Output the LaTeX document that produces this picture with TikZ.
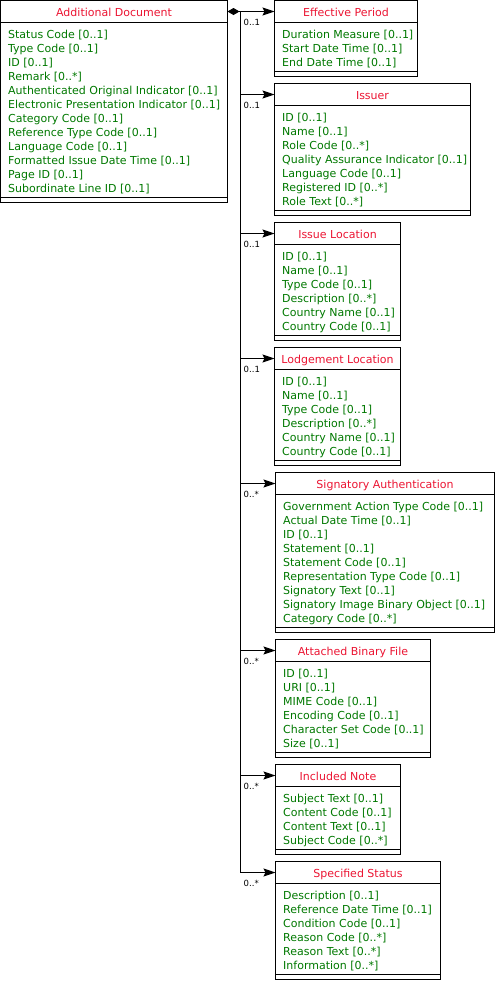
\documentclass[tikz,border=0pt]{standalone}
\usepackage{fontspec}
\setmainfont{DejaVu Sans}
\usetikzlibrary{arrows.meta}
\definecolor{ttlred}{RGB}{235,20,50}
\definecolor{attgreen}{RGB}{0,120,0}
\tikzset{
  box/.style={draw, line width=1pt, inner sep=0pt, outer sep=0pt, anchor=north west},
  titletext/.style={font=\fontsize{11}{12}\selectfont, text=ttlred, text height=9pt, text depth=0pt},
  attrtext/.style={font=\fontsize{11}{12}\selectfont, text=attgreen, inner sep=0pt, anchor=west, text height=9pt, text depth=0pt},
  mult/.style={font=\fontsize{8.5}{9}\selectfont, inner sep=0pt, anchor=west},
  link/.style={line width=1pt, -{Stealth[length=12pt,width=8pt,inset=2pt]}},
  trunk/.style={line width=1pt},
}
\newcommand\umlclass[7]{%
  \pgfmathsetmacro\bodyh{14*#6+7}%
  \node[box, titletext, minimum width=#4pt-#2pt, minimum height=22pt] (#1) at (#2,#3) {#5};
  \node[box, minimum width=#4pt-#2pt, minimum height=\bodyh pt] (#1-body) at (#1.south west) {};
  \node[box, minimum width=#4pt-#2pt, minimum height=5pt] (#1-foot) at (#1-body.south west) {};
  \foreach \a [count=\i] in {#7}{\node[attrtext] (#1-\i) at ({#2+7.5},{#3+33+14*(\i-1)}) {\a};}
}
\begin{document}
\begin{tikzpicture}[x=1pt,y=-1pt]
\useasboundingbox (0,0) rectangle (496,994);
\umlclass{AD}{0.5}{0.5}{227.5}{Additional Document}{12}{Status Code [0..1],Type Code [0..1],ID [0..1],Remark [0..*],Authenticated Original Indicator [0..1],Electronic Presentation Indicator [0..1],Category Code [0..1],Reference Type Code [0..1],Language Code [0..1],Formatted Issue Date Time [0..1],Page ID [0..1],Subordinate Line ID [0..1]}
\umlclass{EP}{274.5}{0.5}{417.5}{Effective Period}{3}{Duration Measure [0..1],Start Date Time [0..1],End Date Time [0..1]}
\umlclass{IS}{274.5}{83.5}{470.5}{Issuer}{7}{ID [0..1],Name [0..1],Role Code [0..*],Quality Assurance Indicator [0..1],Language Code [0..1],Registered ID [0..*],Role Text [0..*]}
\umlclass{IL}{274.5}{222.5}{400.5}{Issue Location}{6}{ID [0..1],Name [0..1],Type Code [0..1],Description [0..*],Country Name [0..1],Country Code [0..1]}
\umlclass{LL}{274.5}{347.5}{400.5}{Lodgement Location}{6}{ID [0..1],Name [0..1],Type Code [0..1],Description [0..*],Country Name [0..1],Country Code [0..1]}
\umlclass{SA}{275.5}{472.5}{494.5}{Signatory Authentication}{9}{Government Action Type Code [0..1],Actual Date Time [0..1],ID [0..1],Statement [0..1],Statement Code [0..1],Representation Type Code [0..1],Signatory Text [0..1],Signatory Image Binary Object [0..1],Category Code [0..*]}
\umlclass{AB}{275.5}{639.5}{430.5}{Attached Binary File}{6}{ID [0..1],URI [0..1],MIME Code [0..1],Encoding Code [0..1],Character Set Code [0..1],Size [0..1]}
\umlclass{IN}{275.5}{764.5}{400.5}{Included Note}{4}{Subject Text [0..1],Content Code [0..1],Content Text [0..1],Subject Code [0..*]}
\umlclass{SS}{275.5}{861.5}{440.5}{Specified Status}{6}{Description [0..1],Reference Date Time [0..1],Condition Code [0..1],Reason Code [0..*],Reason Text [0..*],Information [0..*]}
\coordinate (bus) at (240.5,0);
\draw[trunk] (bus |- AD.east) -- (bus |- SS.west);
\draw[line width=1pt, {Diamond[length=12pt,width=7pt]}-{Stealth[length=12pt,width=8pt,inset=2pt]}] (AD.east) -- (EP.west);
\foreach \n in {IS,IL,LL,SA,AB,IN,SS}{\draw[link] (bus |- \n.west) -- (\n.west);}
\foreach \n/\m in {EP/0..1,IS/0..1,IL/0..1,LL/0..1,SA/0..*,AB/0..*,IN/0..*,SS/0..*}{%
  \node[mult] (\n-mult) at ([xshift=3pt,yshift=-10.5pt] bus |- \n.west) {\m};}
\end{tikzpicture}
\end{document}
